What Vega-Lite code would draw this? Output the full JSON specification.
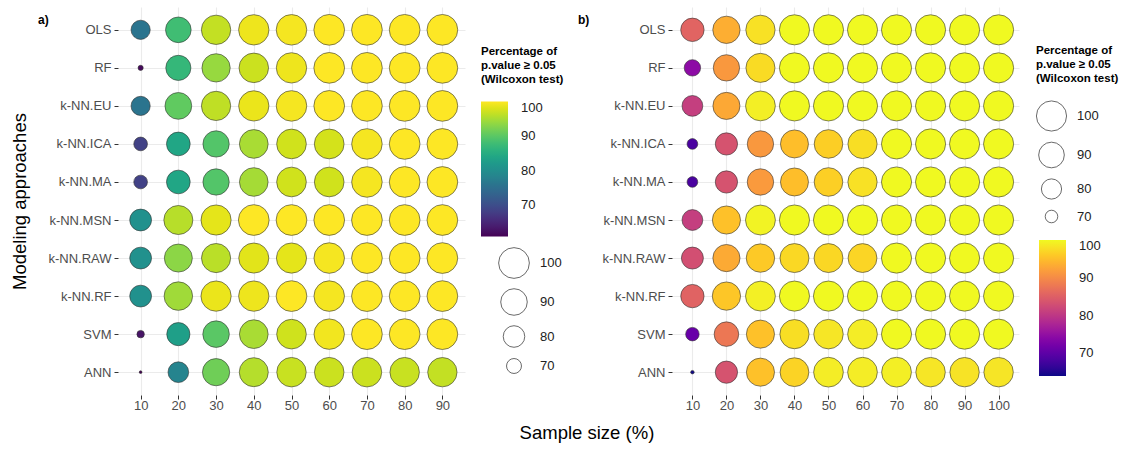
{
  "$schema": "https://vega.github.io/schema/vega-lite/v6.json",
  "padding": {"left": 10, "top": 7, "right": 0, "bottom": 2},
  "config": {
    "font": "Liberation Sans",
    "view": {"stroke": null},
    "axis": {"grid": true, "gridColor": "#EBEBEB", "gridWidth": 1.1, "domain": false, "tickColor": "#333333", "tickSize": 4, "tickWidth": 1, "labelFontSize": 13, "labelColor": "#4D4D4D", "labelPadding": 3, "titleFontSize": 18.5, "titleFontWeight": "normal", "titleColor": "#000000"},
    "legend": {"padding": 0, "labelFontSize": 13, "labelColor": "#222222", "labelOffset": 10, "gradientLabelOffset": 13, "titleFontSize": 11.5, "titleFontWeight": "bold", "titleColor": "#000000", "titleLineHeight": 14, "titlePadding": 16, "gradientStrokeWidth": 0, "symbolBaseFillColor": "white", "symbolBaseStrokeColor": "#444444", "symbolFillColor": "white", "symbolStrokeColor": "#444444", "symbolStrokeWidth": 0.8, "symbolType": "circle", "rowPadding": 7}
  },
  "datasets": {
    "a": [
      {"m":"OLS","s":10,"v":76},{"m":"OLS","s":20,"v":88},{"m":"OLS","s":30,"v":96.5},{"m":"OLS","s":40,"v":99},{"m":"OLS","s":50,"v":99.5},{"m":"OLS","s":60,"v":100},{"m":"OLS","s":70,"v":100},{"m":"OLS","s":80,"v":100},{"m":"OLS","s":90,"v":100},
      {"m":"RF","s":10,"v":61.8},{"m":"RF","s":20,"v":87},{"m":"RF","s":30,"v":94},{"m":"RF","s":40,"v":97},{"m":"RF","s":50,"v":99},{"m":"RF","s":60,"v":100},{"m":"RF","s":70,"v":100},{"m":"RF","s":80,"v":100},{"m":"RF","s":90,"v":100},
      {"m":"k-NN.EU","s":10,"v":76},{"m":"k-NN.EU","s":20,"v":90.5},{"m":"k-NN.EU","s":30,"v":96.3},{"m":"k-NN.EU","s":40,"v":98.8},{"m":"k-NN.EU","s":50,"v":99.5},{"m":"k-NN.EU","s":60,"v":100},{"m":"k-NN.EU","s":70,"v":100},{"m":"k-NN.EU","s":80,"v":100},{"m":"k-NN.EU","s":90,"v":100},
      {"m":"k-NN.ICA","s":10,"v":68.5},{"m":"k-NN.ICA","s":20,"v":84},{"m":"k-NN.ICA","s":30,"v":89.5},{"m":"k-NN.ICA","s":40,"v":95},{"m":"k-NN.ICA","s":50,"v":97.3},{"m":"k-NN.ICA","s":60,"v":97.5},{"m":"k-NN.ICA","s":70,"v":99.5},{"m":"k-NN.ICA","s":80,"v":100},{"m":"k-NN.ICA","s":90,"v":100},
      {"m":"k-NN.MA","s":10,"v":68.5},{"m":"k-NN.MA","s":20,"v":84},{"m":"k-NN.MA","s":30,"v":89.5},{"m":"k-NN.MA","s":40,"v":94.8},{"m":"k-NN.MA","s":50,"v":97.3},{"m":"k-NN.MA","s":60,"v":97.3},{"m":"k-NN.MA","s":70,"v":99.5},{"m":"k-NN.MA","s":80,"v":100},{"m":"k-NN.MA","s":90,"v":100},
      {"m":"k-NN.MSN","s":10,"v":80.5},{"m":"k-NN.MSN","s":20,"v":95.8},{"m":"k-NN.MSN","s":30,"v":98.5},{"m":"k-NN.MSN","s":40,"v":100},{"m":"k-NN.MSN","s":50,"v":100},{"m":"k-NN.MSN","s":60,"v":100},{"m":"k-NN.MSN","s":70,"v":100},{"m":"k-NN.MSN","s":80,"v":100},{"m":"k-NN.MSN","s":90,"v":100},
      {"m":"k-NN.RAW","s":10,"v":80.5},{"m":"k-NN.RAW","s":20,"v":93.3},{"m":"k-NN.RAW","s":30,"v":96},{"m":"k-NN.RAW","s":40,"v":98.3},{"m":"k-NN.RAW","s":50,"v":98.5},{"m":"k-NN.RAW","s":60,"v":99.5},{"m":"k-NN.RAW","s":70,"v":100},{"m":"k-NN.RAW","s":80,"v":100},{"m":"k-NN.RAW","s":90,"v":100},
      {"m":"k-NN.RF","s":10,"v":80.5},{"m":"k-NN.RF","s":20,"v":94.5},{"m":"k-NN.RF","s":30,"v":98.8},{"m":"k-NN.RF","s":40,"v":99},{"m":"k-NN.RF","s":50,"v":100},{"m":"k-NN.RF","s":60,"v":99.5},{"m":"k-NN.RF","s":70,"v":100},{"m":"k-NN.RF","s":80,"v":100},{"m":"k-NN.RF","s":90,"v":100},
      {"m":"SVM","s":10,"v":63},{"m":"SVM","s":20,"v":83},{"m":"SVM","s":30,"v":90},{"m":"SVM","s":40,"v":95},{"m":"SVM","s":50,"v":97.2},{"m":"SVM","s":60,"v":99.3},{"m":"SVM","s":70,"v":100},{"m":"SVM","s":80,"v":100},{"m":"SVM","s":90,"v":100},
      {"m":"ANN","s":10,"v":61},{"m":"ANN","s":20,"v":78.5},{"m":"ANN","s":30,"v":91.5},{"m":"ANN","s":40,"v":95.7},{"m":"ANN","s":50,"v":96.8},{"m":"ANN","s":60,"v":97},{"m":"ANN","s":70,"v":97},{"m":"ANN","s":80,"v":96.8},{"m":"ANN","s":90,"v":96.5}
    ],
    "b": [
      {"m":"OLS","s":10,"v":85.6},{"m":"OLS","s":20,"v":93.5},{"m":"OLS","s":30,"v":98},{"m":"OLS","s":40,"v":100},{"m":"OLS","s":50,"v":100},{"m":"OLS","s":60,"v":100},{"m":"OLS","s":70,"v":100},{"m":"OLS","s":80,"v":100},{"m":"OLS","s":90,"v":100},{"m":"OLS","s":100,"v":100},
      {"m":"RF","s":10,"v":74.5},{"m":"RF","s":20,"v":91.4},{"m":"RF","s":30,"v":97.5},{"m":"RF","s":40,"v":100},{"m":"RF","s":50,"v":100},{"m":"RF","s":60,"v":100},{"m":"RF","s":70,"v":100},{"m":"RF","s":80,"v":100},{"m":"RF","s":90,"v":100},{"m":"RF","s":100,"v":100},
      {"m":"k-NN.EU","s":10,"v":81},{"m":"k-NN.EU","s":20,"v":93},{"m":"k-NN.EU","s":30,"v":99.2},{"m":"k-NN.EU","s":40,"v":100},{"m":"k-NN.EU","s":50,"v":100},{"m":"k-NN.EU","s":60,"v":100},{"m":"k-NN.EU","s":70,"v":100},{"m":"k-NN.EU","s":80,"v":100},{"m":"k-NN.EU","s":90,"v":100},{"m":"k-NN.EU","s":100,"v":100},
      {"m":"k-NN.ICA","s":10,"v":68.3},{"m":"k-NN.ICA","s":20,"v":83.5},{"m":"k-NN.ICA","s":30,"v":91.4},{"m":"k-NN.ICA","s":40,"v":95},{"m":"k-NN.ICA","s":50,"v":96.4},{"m":"k-NN.ICA","s":60,"v":97.8},{"m":"k-NN.ICA","s":70,"v":100},{"m":"k-NN.ICA","s":80,"v":100},{"m":"k-NN.ICA","s":90,"v":100},{"m":"k-NN.ICA","s":100,"v":100},
      {"m":"k-NN.MA","s":10,"v":68.3},{"m":"k-NN.MA","s":20,"v":83.5},{"m":"k-NN.MA","s":30,"v":91.6},{"m":"k-NN.MA","s":40,"v":95},{"m":"k-NN.MA","s":50,"v":96.5},{"m":"k-NN.MA","s":60,"v":98},{"m":"k-NN.MA","s":70,"v":100},{"m":"k-NN.MA","s":80,"v":100},{"m":"k-NN.MA","s":90,"v":100},{"m":"k-NN.MA","s":100,"v":100},
      {"m":"k-NN.MSN","s":10,"v":81},{"m":"k-NN.MSN","s":20,"v":95.3},{"m":"k-NN.MSN","s":30,"v":99.5},{"m":"k-NN.MSN","s":40,"v":100},{"m":"k-NN.MSN","s":50,"v":100},{"m":"k-NN.MSN","s":60,"v":100},{"m":"k-NN.MSN","s":70,"v":100},{"m":"k-NN.MSN","s":80,"v":100},{"m":"k-NN.MSN","s":90,"v":100},{"m":"k-NN.MSN","s":100,"v":100},
      {"m":"k-NN.RAW","s":10,"v":83},{"m":"k-NN.RAW","s":20,"v":93.2},{"m":"k-NN.RAW","s":30,"v":96},{"m":"k-NN.RAW","s":40,"v":97.3},{"m":"k-NN.RAW","s":50,"v":97.2},{"m":"k-NN.RAW","s":60,"v":97},{"m":"k-NN.RAW","s":70,"v":100},{"m":"k-NN.RAW","s":80,"v":100},{"m":"k-NN.RAW","s":90,"v":100},{"m":"k-NN.RAW","s":100,"v":100},
      {"m":"k-NN.RF","s":10,"v":85.5},{"m":"k-NN.RF","s":20,"v":95.7},{"m":"k-NN.RF","s":30,"v":99.3},{"m":"k-NN.RF","s":40,"v":100},{"m":"k-NN.RF","s":50,"v":100},{"m":"k-NN.RF","s":60,"v":100},{"m":"k-NN.RF","s":70,"v":100},{"m":"k-NN.RF","s":80,"v":100},{"m":"k-NN.RF","s":90,"v":100},{"m":"k-NN.RF","s":100,"v":100},
      {"m":"SVM","s":10,"v":71},{"m":"SVM","s":20,"v":87.8},{"m":"SVM","s":30,"v":95.3},{"m":"SVM","s":40,"v":97.8},{"m":"SVM","s":50,"v":98.5},{"m":"SVM","s":60,"v":99},{"m":"SVM","s":70,"v":100},{"m":"SVM","s":80,"v":100},{"m":"SVM","s":90,"v":100},{"m":"SVM","s":100,"v":100},
      {"m":"ANN","s":10,"v":64.2},{"m":"ANN","s":20,"v":83.5},{"m":"ANN","s":30,"v":95.3},{"m":"ANN","s":40,"v":96.8},{"m":"ANN","s":50,"v":99},{"m":"ANN","s":60,"v":99},{"m":"ANN","s":70,"v":99.2},{"m":"ANN","s":80,"v":98.5},{"m":"ANN","s":90,"v":98.2},{"m":"ANN","s":100,"v":98.4}
    ]
  },
  "title": {"text": "Sample size (%)", "orient": "bottom", "anchor": "middle", "fontSize": 18.5, "fontWeight": "normal", "color": "#000000", "offset": 12, "dx": 22},
  "bounds": "flush",
  "spacing": 207,
  "resolve": {"scale": {"fill": "independent", "size": "independent", "x": "independent", "y": "independent"}},
  "hconcat": [
    {
      "width": 347, "height": 388,
      "data": {"name": "a"},
      "title": {"text": "a)", "anchor": "start", "frame": "group", "dx": -80, "offset": -29, "fontSize": 12, "fontWeight": "bold", "baseline": "alphabetic", "color": "#000000"},
      "mark": {"type": "circle", "opacity": 1, "stroke": "#333333", "strokeWidth": 0.6},
      "encoding": {
        "x": {"field": "s", "type": "ordinal", "scale": {"type": "point", "padding": 0.6}, "axis": {"title": null, "labelAngle": 0, "labelPadding": 0}},
        "y": {"field": "m", "type": "nominal", "sort": ["OLS","RF","k-NN.EU","k-NN.ICA","k-NN.MA","k-NN.MSN","k-NN.RAW","k-NN.RF","SVM","ANN"], "scale": {"type": "point", "padding": 0.6}, "axis": {"title": "Modeling approaches", "titlePadding": 18}},
        "fill": {"field": "v", "type": "quantitative", "scale": {"scheme": "viridis", "domain": [61, 100]}, "legend": {"orient": "none", "legendX": 363, "legendY": 39, "title": ["Percentage of", "p.value ≥ 0.05", "(Wilcoxon test)"], "values": [70, 80, 90, 100], "gradientLength": 135, "gradientThickness": 27, "labelOffset": 13}},
        "size": {"field": "v", "type": "quantitative", "scale": {"domain": [60.9, 100], "range": [5, 945], "zero": false}, "legend": {"orient": "none", "legendX": 380, "legendY": 240, "title": null, "values": [100, 90, 80, 70]}}
      }
    },
    {
      "width": 347, "height": 388,
      "data": {"name": "b"},
      "title": {"text": "b)", "anchor": "start", "frame": "group", "dx": -94, "offset": -29, "fontSize": 12, "fontWeight": "bold", "baseline": "alphabetic", "color": "#000000"},
      "mark": {"type": "circle", "opacity": 1, "stroke": "#333333", "strokeWidth": 0.6},
      "encoding": {
        "x": {"field": "s", "type": "ordinal", "scale": {"type": "point", "padding": 0.6}, "axis": {"title": null, "labelAngle": 0, "labelPadding": 0}},
        "y": {"field": "m", "type": "nominal", "sort": ["OLS","RF","k-NN.EU","k-NN.ICA","k-NN.MA","k-NN.MSN","k-NN.RAW","k-NN.RF","SVM","ANN"], "scale": {"type": "point", "padding": 0.6}, "axis": {"title": null}},
        "fill": {"field": "v", "type": "quantitative", "scale": {"scheme": "plasma", "domain": [64, 100]}, "legend": {"orient": "none", "legendX": 367, "legendY": 233, "title": null, "values": [70, 80, 90, 100], "gradientLength": 136, "gradientThickness": 27, "labelOffset": 13}},
        "size": {"field": "v", "type": "quantitative", "scale": {"domain": [63.9, 100], "range": [5, 908], "zero": false}, "legend": {"orient": "none", "legendX": 364, "legendY": 38, "title": ["Percentage of", "p.value ≥ 0.05", "(Wilcoxon test)"], "values": [100, 90, 80, 70]}}
      }
    }
  ]
}
